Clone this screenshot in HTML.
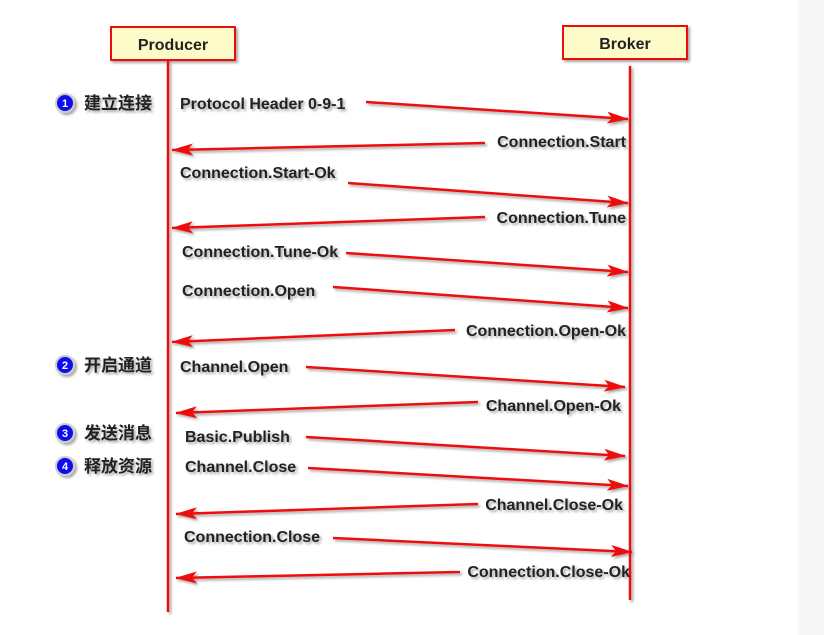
<!DOCTYPE html>
<html><head><meta charset="utf-8"><style>
body{margin:0;background:#fff;width:824px;height:635px;overflow:hidden}
svg{display:block}
text{font-family:"Liberation Sans","Noto Sans CJK SC",sans-serif;font-weight:bold;fill:#222;font-size:16px}
.cn{font-size:17px}
</style></head><body>
<svg width="824" height="635" viewBox="0 0 824 635">
<defs>
<marker id="ah" markerWidth="22" markerHeight="12" refX="21" refY="6" orient="auto" markerUnits="userSpaceOnUse">
<path d="M0,0 L22,6 L0,12 L5,6 Z" fill="#ee1111"/>
</marker>
<filter id="sh"><feDropShadow dx="2" dy="2" stdDeviation="1.2" flood-color="#000" flood-opacity="0.35"/></filter>
</defs>
<rect x="798" y="0" width="26" height="635" fill="#f7f7f7"/>
<g filter="url(#sh)">
<rect x="111" y="27" width="124" height="33" fill="#fdfbc8" stroke="#ee1111" stroke-width="2"/>
<rect x="563" y="26" width="124" height="33" fill="#fdfbc8" stroke="#ee1111" stroke-width="2"/>
<line x1="168" y1="61" x2="168" y2="612" stroke="#ee1111" stroke-width="2.5"/>
<line x1="630" y1="66" x2="630" y2="600" stroke="#ee1111" stroke-width="2.5"/>
<g stroke="#ee1111" stroke-width="2.5" marker-end="url(#ah)">
<line x1="366" y1="102" x2="628" y2="119"/>
<line x1="485" y1="143" x2="172" y2="150"/>
<line x1="348" y1="183" x2="628" y2="203"/>
<line x1="485" y1="217" x2="172" y2="228"/>
<line x1="346" y1="253" x2="628" y2="272"/>
<line x1="333" y1="287" x2="628" y2="308"/>
<line x1="455" y1="330" x2="172" y2="342"/>
<line x1="306" y1="367" x2="625" y2="387"/>
<line x1="478" y1="402" x2="176" y2="413"/>
<line x1="306" y1="437" x2="625" y2="456"/>
<line x1="308" y1="468" x2="628" y2="486"/>
<line x1="478" y1="504" x2="176" y2="514"/>
<line x1="333" y1="538" x2="632" y2="552"/>
<line x1="460" y1="572" x2="176" y2="578"/>
</g>
<g>
<text x="173" y="50" text-anchor="middle">Producer</text>
<text x="625" y="49" text-anchor="middle">Broker</text>
<text x="180" y="109">Protocol Header 0-9-1</text>
<text x="626" y="147" text-anchor="end">Connection.Start</text>
<text x="180" y="178">Connection.Start-Ok</text>
<text x="626" y="223" text-anchor="end">Connection.Tune</text>
<text x="182" y="257">Connection.Tune-Ok</text>
<text x="182" y="296">Connection.Open</text>
<text x="626" y="336" text-anchor="end">Connection.Open-Ok</text>
<text x="180" y="372">Channel.Open</text>
<text x="621" y="411" text-anchor="end">Channel.Open-Ok</text>
<text x="185" y="442">Basic.Publish</text>
<text x="185" y="472">Channel.Close</text>
<text x="623" y="510" text-anchor="end">Channel.Close-Ok</text>
<text x="184" y="542">Connection.Close</text>
<text x="630" y="577" text-anchor="end">Connection.Close-Ok</text>
</g>
<g>
<circle cx="65" cy="103" r="9" fill="#1010ee" stroke="#ccc" stroke-width="2"/>
<circle cx="65" cy="365" r="9" fill="#1010ee" stroke="#ccc" stroke-width="2"/>
<circle cx="65" cy="433" r="9" fill="#1010ee" stroke="#ccc" stroke-width="2"/>
<circle cx="65" cy="466" r="9" fill="#1010ee" stroke="#ccc" stroke-width="2"/>
</g>
<g>
<text x="84" y="109" class="cn">建立连接</text>
<text x="84" y="371" class="cn">开启通道</text>
<text x="84" y="439" class="cn">发送消息</text>
<text x="84" y="472" class="cn">释放资源</text>
</g>
</g>
<g>
<text x="65" y="107" style="fill:#fff;font-size:11px" text-anchor="middle">1</text>
<text x="65" y="369" style="fill:#fff;font-size:11px" text-anchor="middle">2</text>
<text x="65" y="437" style="fill:#fff;font-size:11px" text-anchor="middle">3</text>
<text x="65" y="470" style="fill:#fff;font-size:11px" text-anchor="middle">4</text>
</g>
</svg>
</body></html>
